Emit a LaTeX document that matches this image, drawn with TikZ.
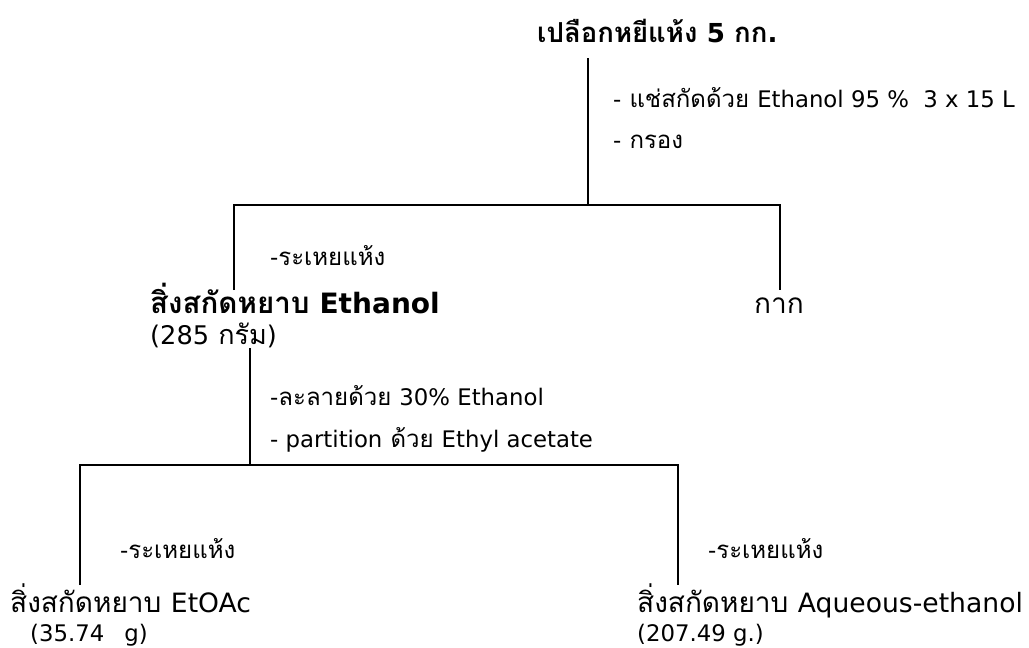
\documentclass[tikz,border=0pt]{standalone}
\usepackage{fontspec}
\setmainfont[Script=Thai]{Loma}
\newfontfamily\latfont[Scale=0.95]{DejaVu Sans}
\newcommand\en[1]{{\latfont #1}}
\begin{document}
\begin{tikzpicture}[x=1pt,y=-1pt,
  base/.style={anchor=base west,inner sep=0pt,text height=0.72em,text depth=0.1em},
  lbl/.style={base,font=\fontsize{24}{26}\selectfont},
  big/.style={base,font=\fontsize{28}{30}\selectfont},
  bold/.style={base,font=\fontsize{29.5}{31}\selectfont\bfseries},
  conn/.style={line width=1.9pt}]
\useasboundingbox (0,0) rectangle (1029,648);
\node[bold,font=\fontsize{27.5}{30}\selectfont\bfseries] (title) at (537,42) {เปลือกหยีแห้ง \en{5} กก\en{.}};
\node[lbl] (s1) at (613,107) {\en{-} แช่สกัดด้วย \en{Ethanol 95 \%\ \ 3 x 15 L}};
\node[lbl] (s2) at (613,148) {\en{-} กรอง};
\node[lbl] (d1) at (270,265) {\en{-}ระเหยแห้ง};
\node[bold] (eth) at (150,313) {สิ่งสกัดหยาบ \en{Ethanol}};
\node[big,font=\fontsize{27}{29}\selectfont] (eth2) at (150,344) {\en{(285} กรัม\en{)}};
\node[big] (kak) at (754,313) {กาก};
\node[lbl] (s3) at (270,405) {\en{-}ละลายด้วย \en{30\% Ethanol}};
\node[lbl] (s4) at (270,447) {\en{- partition} ด้วย \en{Ethyl acetate}};
\node[lbl] (d2) at (120,558) {\en{-}ระเหยแห้ง};
\node[lbl] (d3) at (708,558) {\en{-}ระเหยแห้ง};
\node[big] (ea) at (10,612) {สิ่งสกัดหยาบ \en{EtOAc}};
\node[lbl] (ea2) at (30,641) {\en{(35.74\hspace{20pt}g)}};
\node[lbl] (aq2) at (637,641) {\en{(207.49 g.)}};
\node[big] (aq) at (637,612) {สิ่งสกัดหยาบ \en{Aqueous-ethanol}};
% connectors
\coordinate (t0) at (588,58);
\coordinate (j1) at (588,205);
\coordinate (l1) at (234,205);
\coordinate (r1) at (780,205);
\coordinate (l1b) at (234,290);
\coordinate (r1b) at (780,290);
\draw[conn] (t0) -- (j1);
\draw[conn] (l1b) -- (l1) -- (r1) -- (r1b);
\coordinate (e0) at (250,348);
\coordinate (j2) at (250,465);
\coordinate (l2) at (80,465);
\coordinate (r2) at (678,465);
\coordinate (l2b) at (80,585);
\coordinate (r2b) at (678,585);
\draw[conn] (e0) -- (j2);
\draw[conn] (l2b) -- (l2) -- (r2) -- (r2b);
\end{tikzpicture}
\end{document}
